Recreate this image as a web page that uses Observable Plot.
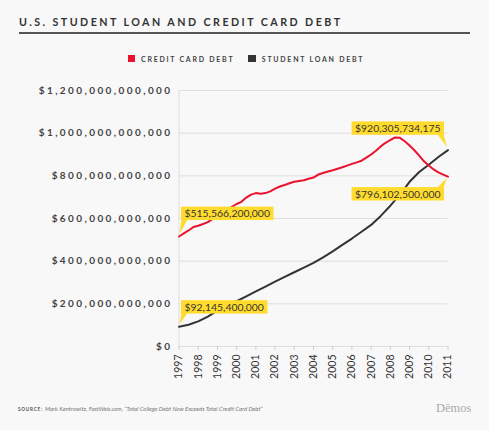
<!DOCTYPE html>
<html>
<head>
<meta charset="utf-8">
<script src="https://cdn.jsdelivr.net/npm/d3@7"></script>
<script src="https://cdn.jsdelivr.net/npm/@observablehq/plot@0.6"></script>
<style>
  html, body { margin: 0; padding: 0; background: #f8f8f8; }
  #wrap { position: relative; width: 489px; height: 430px; overflow: hidden; background: #f8f8f8; font-family: Lato, sans-serif; }
  #title { position: absolute; left: 19px; top: 15px; font-size: 10.7px; font-weight: bold; letter-spacing: 2.45px; color: #333; white-space: nowrap; }
  #rule { position: absolute; left: 19px; top: 31.7px; width: 451px; height: 2px; background: #555; }
  #legend { position: absolute; left: 0; top: 54px; width: 489px; font-size: 7px; font-weight: bold; letter-spacing: 1.75px; color: #444; white-space: nowrap; }
  .lg { position: absolute; top: 0; display: flex; align-items: center; height: 9px; }
  .sw { width: 7.5px; height: 7.5px; margin-right: 6px; }
  #caption { position: absolute; left: 18px; top: 405px; font-size: 5.9px; color: #777; white-space: nowrap; }
  #caption b { font-size: 4.6px; letter-spacing: 0.8px; color: #555; font-style: normal; margin-right: 2px; }
  #caption i { font-style: italic; }
  #logo { position: absolute; left: 436px; top: 401px; font-family: "Liberation Serif", "DejaVu Serif", serif; font-size: 12.5px; color: #aaa; }
  #chart { position: absolute; left: 0; top: 0; }
  g[aria-label="y-axis tick label"] text { letter-spacing: 2.4px; }
</style>
</head>
<body>
<div id="wrap">
  <div id="chart"></div>
  <div id="title">U.S. STUDENT LOAN AND CREDIT CARD DEBT</div>
  <div id="rule"></div>
  <div id="legend"></div>
  <div id="caption"><b>SOURCE:</b><i>Mark Kantrowitz, FastWeb.com, “Total College Debt Now Exceeds Total Credit Card Debt”</i></div>
  <div id="logo">Dēmos</div>
</div>
<script>
// ---- Data (values in billions of dollars) ----
const seriesNames = ["CREDIT CARD DEBT", "STUDENT LOAN DEBT"];
const seriesColors = ["#e8132d", "#333333"];

const creditYears = [
  1997, 1997.25, 1997.5, 1997.75, 1998, 1998.25, 1998.5, 1998.75,
  1999, 1999.25, 1999.5, 1999.75, 2000, 2000.25, 2000.5, 2000.75,
  2001, 2001.25, 2001.5, 2001.75, 2002, 2002.25, 2002.5, 2002.75,
  2003, 2003.25, 2003.5, 2003.75, 2004, 2004.25, 2004.5, 2004.75,
  2005, 2005.25, 2005.5, 2005.75, 2006, 2006.25, 2006.5, 2006.75,
  2007, 2007.25, 2007.5, 2007.75, 2008, 2008.25, 2008.5, 2008.75,
  2009, 2009.25, 2009.5, 2009.75, 2010, 2010.25, 2010.5, 2010.75, 2011
];
const creditValues = [
  515.5662, 530, 544, 560, 566, 574, 583, 598,
  606, 618, 635, 655, 668, 678, 698, 712,
  719, 716, 719, 727, 740, 750, 757, 765,
  772, 776, 779, 786, 792, 806, 813, 820,
  826, 833, 840, 848, 856, 863, 871, 885,
  900, 918, 938, 955, 968, 980, 978, 962,
  942, 920, 895, 868, 848, 830, 816, 806, 796.1025
];

const studentYears = [
  1997, 1997.5, 1998, 1998.5, 1999, 1999.5, 2000, 2000.5,
  2001, 2001.5, 2002, 2002.5, 2003, 2003.5, 2004, 2004.5,
  2005, 2005.5, 2006, 2006.5, 2007, 2007.5, 2008, 2008.5,
  2009, 2009.5, 2010, 2010.5, 2011
];
const studentValues = [
  92.1454, 102, 118, 140, 168, 190, 212, 235,
  258, 281, 304, 326, 348, 370, 392, 418,
  446, 476, 506, 538, 570, 612, 660, 712,
  772, 818, 852, 888, 920.305734175
];

const yTicks = [0, 200e9, 400e9, 600e9, 800e9, 1000e9, 1200e9];
const xTicks = [1997, 1998, 1999, 2000, 2001, 2002, 2003, 2004, 2005, 2006, 2007, 2008, 2009, 2010, 2011];

const annoYears = [1997, 1997, 2011, 2011];
const annoValues = [515.5662e9, 92.1454e9, 920.305734175e9, 796.1025e9];
const annoLabels = ["$515,566,200,000", "$92,145,400,000", "$920,305,734,175", "$796,102,500,000"];

// ---- Build tables ----
const credit = creditYears.map((y, i) => ({year: y, value: creditValues[i] * 1e9}));
const student = studentYears.map((y, i) => ({year: y, value: studentValues[i] * 1e9}));
const annos = annoYears.map((y, i) => ({year: y, value: annoValues[i], label: annoLabels[i], i}));

const fmt = d3.format(",.0f");
const annoText = (i, dx, dy, anchor) => Plot.text(annos.filter(d => d.i === i), {
  x: "year", y: "value", text: "label", dx, dy, textAnchor: anchor, lineAnchor: "middle",
  fontSize: 10.4, fill: "#333", className: "anno anno" + i
});

const chart = Plot.plot({
  width: 489,
  height: 430,
  marginLeft: 178.5,
  marginRight: 41.5,
  marginTop: 90,
  marginBottom: 84,
  style: {background: "transparent", fontFamily: "Lato, sans-serif", overflow: "visible"},
  x: {domain: [1997, 2011], label: null},
  y: {domain: [0, 1.2e12], label: null},
  marks: [
    Plot.gridY(yTicks, {stroke: "#dedede", strokeOpacity: 1, strokeWidth: 1}),
    Plot.ruleX([1997], {stroke: "#dedede", strokeWidth: 1}),
    Plot.axisY(yTicks, {label: null, tickSize: 0, tickPadding: 6.5, tickFormat: d => "$" + fmt(d), fontSize: 10, fontWeight: "bold", fill: "#444"}),
    Plot.axisX(xTicks, {label: null, tickSize: 4, tickPadding: 4, tickRotate: -90, tickFormat: d => String(d), stroke: "#cfcfcf", fill: "#333", fontSize: 10.5}),
    Plot.lineY(student, {x: "year", y: "value", stroke: seriesColors[1], strokeWidth: 2}),
    Plot.lineY(credit, {x: "year", y: "value", stroke: seriesColors[0], strokeWidth: 2}),
    annoText(0, 5.5, -22.5, "start"),
    annoText(1, 5.5, -19.3, "start"),
    annoText(2, -7.5, -21.4, "end"),
    annoText(3, -7.5, 17.8, "end")
  ]
});

document.getElementById("chart").appendChild(chart);

// Legend
const legend = document.getElementById("legend");
const legendX = [127.5, 248.3];
seriesNames.forEach((n, i) => {
  const el = document.createElement("div");
  el.className = "lg";
  el.style.left = legendX[i] + "px";
  el.innerHTML = `<div class="sw" style="background:${seriesColors[i]}"></div><span>${n}</span>`;
  legend.appendChild(el);
});

// Annotation boxes with pointers (drawn in SVG root coordinates)
const xs = chart.scale("x"), ys = chart.scale("y");
const svgNS = "http://www.w3.org/2000/svg";
const svgRect = chart.getBoundingClientRect();
annos.forEach(d => {
  const g = chart.querySelector("g.anno" + d.i);
  if (!g) return;
  const t = g.querySelector("text");
  const r = t.getBoundingClientRect();
  const bx = r.left - svgRect.left, by = r.top - svgRect.top;
  const px = xs.apply(d.year), py = ys.apply(d.value);
  const cy = by + r.height / 2;
  const x0 = bx - 3.5, x1 = bx + r.width + 3.5;
  const y0 = cy - 6.7, y1 = cy + 6.7;
  const bg = document.createElementNS(svgNS, "g");
  const rect = document.createElementNS(svgNS, "rect");
  rect.setAttribute("x", x0); rect.setAttribute("y", y0);
  rect.setAttribute("width", x1 - x0); rect.setAttribute("height", y1 - y0);
  rect.setAttribute("fill", "#ffdb2e");
  const poly = document.createElementNS(svgNS, "polygon");
  let pts;
  if (d.year === 1997) {
    pts = [[x0 + 0.5, y1 - 0.5], [x0 + 6.5, y1 - 0.5], [px + 1, py - 2]];
  } else if (py > y1) {
    pts = [[x1 - 6.5, y1 - 0.5], [x1 - 0.5, y1 - 0.5], [px - 0.5, py - 2.5]];
  } else {
    pts = [[x1 - 6.5, y0 + 0.5], [x1 - 0.5, y0 + 0.5], [px - 0.5, py + 1.5]];
  }
  poly.setAttribute("points", pts.map(p => p.join(",")).join(" "));
  poly.setAttribute("fill", "#ffdb2e");
  bg.appendChild(poly);
  bg.appendChild(rect);
  g.parentNode.insertBefore(bg, g);
});
</script>
</body>
</html>
